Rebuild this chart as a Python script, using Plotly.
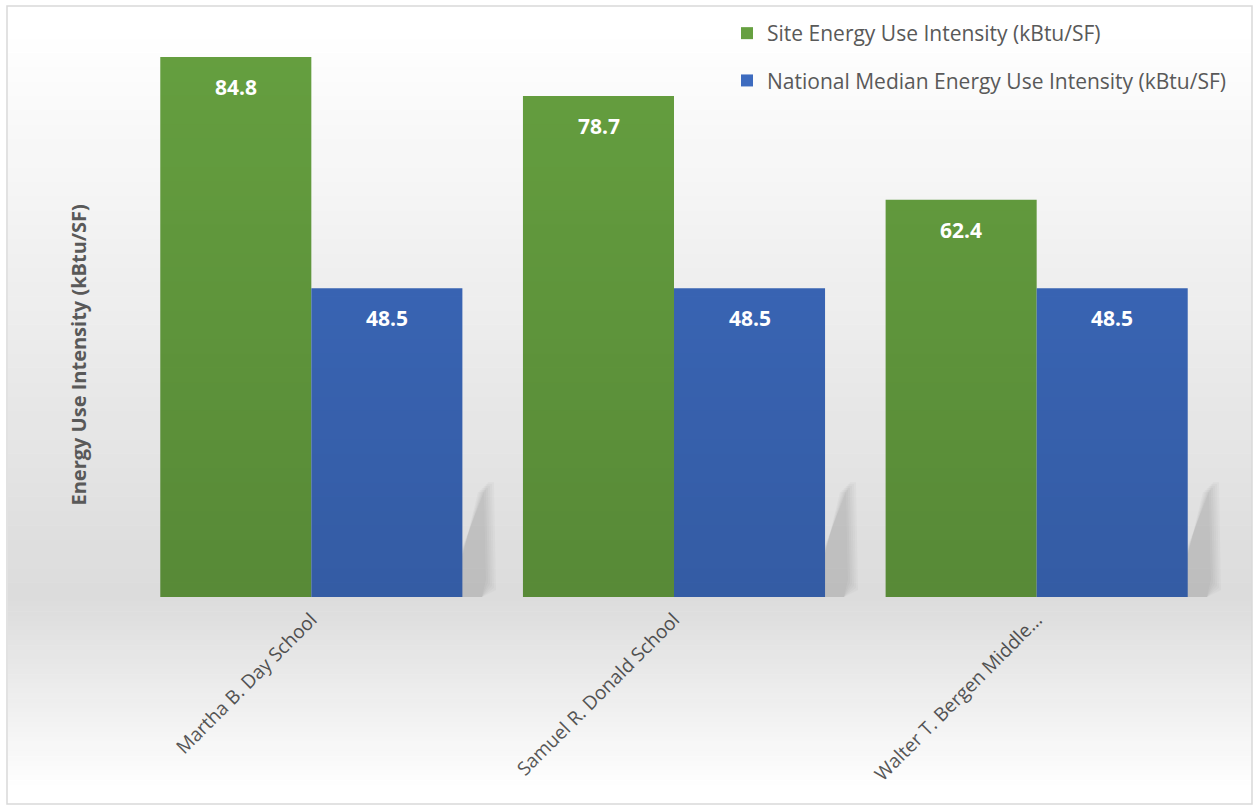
import plotly.graph_objects as go

categories = ["Martha B. Day School", "Samuel R. Donald School", "Walter T. Bergen Middle..."]
site_eui = [84.8, 78.7, 62.4]
national_eui = [48.5, 48.5, 48.5]
series_names = ["Site Energy Use Intensity (kBtu/SF)", "National Median Energy Use Intensity (kBtu/SF)"]

W, H = 1259, 808
ML, MR, MT, MB = 130, 41, 24, 211
PW, PH = W - ML - MR, H - MT - MB
YMAX = 90

def px_x(px):
    return (px - ML) / PW

def px_y(py):
    return (H - MB - py) / PH

FONT = "Open Sans"
GREEN = "#66a040"
BLUE = "#3d6bbf"

fig = go.Figure()
fig.add_trace(go.Bar(x=categories, y=site_eui, name=series_names[0], marker_color=GREEN,
                     marker_line_width=0, legendgroup="a"))
fig.add_trace(go.Bar(x=categories, y=national_eui, name=series_names[1], marker_color=BLUE,
                     marker_line_width=0, legendgroup="b"))

annotations = []
for vals, shift in ((site_eui, -75.5), (national_eui, 75.5)):
    for c, v in zip(categories, vals):
        annotations.append(dict(x=c, y=v, xref="x", yref="y", text=f"<b>{v:.1f}</b>",
                                showarrow=False, xshift=shift, yshift=-30, yanchor="middle",
                                font=dict(family=FONT, size=21, color="white")))
annotations.append(dict(x=px_x(62), y=px_y(355), xref="paper", yref="paper",
                        text="<b>Energy Use Intensity (kBtu/SF)</b>", textangle=-90,
                        showarrow=False, font=dict(family=FONT, size=20, color="#595959")))

shapes = []
# soft drop shadows to the right of each group (decoration)
for gx in (462, 824, 1187):
    for k in range(6):
        d = 10 - 2 * k
        path = (f"M {px_x(gx)},{px_y(597)} L {px_x(gx)},{px_y(548 + d)} "
                f"L {px_x(gx + 26 - d)},{px_y(482 + d)} L {px_x(gx + 32 - d)},{px_y(482 + d)} "
                f"L {px_x(gx + 34 - d)},{px_y(590 - d)} L {px_x(gx + 20)},{px_y(597)} Z")
        shapes.append(dict(type="path", xref="paper", yref="paper", path=path, line_width=0,
                           fillcolor="rgba(90,90,90,0.04)", layer="below"))

# background gradient: white at top, grey near the baseline, fading out below
x0, x1 = px_x(8), px_x(1252)
top, base, bottom = 24, 597, 790
n = 40
for i in range(n):
    ya = top + (base - top) * i / n
    yb = top + (base - top) * (i + 1) / n
    op = 0.14 * (i + 0.5) / n
    shapes.append(dict(type="rect", xref="paper", yref="paper", x0=x0, x1=x1,
                       y0=px_y(yb), y1=px_y(ya), line_width=0,
                       fillcolor=f"rgba(0,0,0,{op:.4f})", layer="above"))
for i in range(n):
    ya = base + (bottom - base) * i / n
    yb = base + (bottom - base) * (i + 1) / n
    op = 0.14 * (1 - (i + 0.5) / n)
    shapes.append(dict(type="rect", xref="paper", yref="paper", x0=x0, x1=x1,
                       y0=px_y(yb), y1=px_y(ya), line_width=0,
                       fillcolor=f"rgba(0,0,0,{op:.4f})", layer="above"))
shapes.append(dict(type="rect", xref="paper", yref="paper", x0=px_x(7), x1=px_x(1252),
                   y0=px_y(804), y1=px_y(6), line=dict(color="#d9d9d9", width=1.5),
                   fillcolor="rgba(0,0,0,0)"))

fig.update_layout(
    width=W, height=H,
    margin=dict(l=ML, r=MR, t=MT, b=MB),
    paper_bgcolor="white", plot_bgcolor="rgba(0,0,0,0)",
    barmode="group", bargap=0.167, bargroupgap=0,
    font=dict(family=FONT, color="#595959"),
    xaxis=dict(tickangle=-45, tickfont=dict(family=FONT, size=19, color="#595959"),
               showgrid=False, showline=False, ticks="", zeroline=False,
               ticklabelstandoff=7),
    yaxis=dict(range=[0, YMAX], showticklabels=False, showgrid=False, zeroline=False,
               showline=False, ticks=""),
    legend=dict(x=px_x(727), y=px_y(13), xanchor="left", yanchor="top",
                font=dict(family=FONT, size=21, color="#595959"),
                tracegroupgap=17, bgcolor="rgba(0,0,0,0)", traceorder="grouped"),
    annotations=annotations,
    shapes=shapes,
)

fig.write_html("out.html")
